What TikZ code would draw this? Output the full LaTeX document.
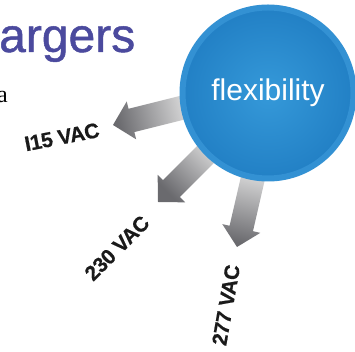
\documentclass[tikz,border=0pt]{standalone}
\usepackage{fontspec}
\setmainfont{Liberation Sans}
\newfontfamily\serifa{Liberation Serif}
\newfontfamily\titlefont[FakeBold=1]{Liberation Sans}
\newfontfamily\labelfont[FakeBold=0.6, LetterSpace=-2]{Liberation Sans}
\usetikzlibrary{calc}
\definecolor{titlepurple}{HTML}{4B4A9E}
\definecolor{ringblue}{HTML}{3391D3}
\definecolor{innerblue}{HTML}{3599D9}
\definecolor{outerblue}{HTML}{2280C5}
\definecolor{arrowlight}{HTML}{E4E4E4}
\definecolor{arrowdark}{HTML}{6A6A6E}
\definecolor{labelblack}{HTML}{1A1A1A}
\newcommand\vacarrow[3]{%
  \shade[top color=arrowlight, bottom color=arrowdark, shading angle=#3]
    (#1) -- ($(#1)+(#2+180:19)+(#2+90:19.5)$)
    -- ($(#1)+(#2+180:19)+(#2+90:12)$)
    -- ($(#1)+(#2+180:85)+(#2+90:12)$)
    -- ($(#1)+(#2+180:85)+(#2-90:12)$)
    -- ($(#1)+(#2+180:19)+(#2-90:12)$)
    -- ($(#1)+(#2+180:19)+(#2-90:19.5)$) -- cycle;}
\begin{document}
\begin{tikzpicture}[x=1pt,y=1pt,
  vac/.style={font=\labelfont\bfseries\fontsize{21}{21}\selectfont, text=labelblack, inner sep=0pt},
  bubble/.style={circle, minimum size=171pt, inner sep=0pt, draw=ringblue, line width=6pt,
    inner color=innerblue, outer color=outerblue, text=white,
    font=\fontsize{30}{30}\selectfont}]
\useasboundingbox (0,0) rectangle (355,352);
\fill[white] (0,0) rectangle (355,352);
% title fragments
\node[anchor=base west, inner sep=0pt, text=titlepurple,
  font=\titlefont\fontsize{48}{48}\selectfont] (title) at (-1,300) {argers};
\node[anchor=base east, inner sep=0pt, font=\serifa\fontsize{24}{24}\selectfont] (frag) at (8,249) {a};
% arrow tips
\coordinate (t1) at (113,227);
\coordinate (t2) at (158,150);
\coordinate (t3) at (237,105);
\vacarrow{t1}{194}{284}
\vacarrow{t2}{225}{315}
\vacarrow{t3}{257}{347}
% circle
\node[bubble] (flex) at (268,259) {flexibility};
% labels
\node[vac, rotate=11] (l115) at (62,215) {I15 VAC};
\node[vac, rotate=45] (l230) at (117,104) {230 VAC};
\node[vac, rotate=80] (l277) at (226,47) {277 VAC};
\end{tikzpicture}
\end{document}
